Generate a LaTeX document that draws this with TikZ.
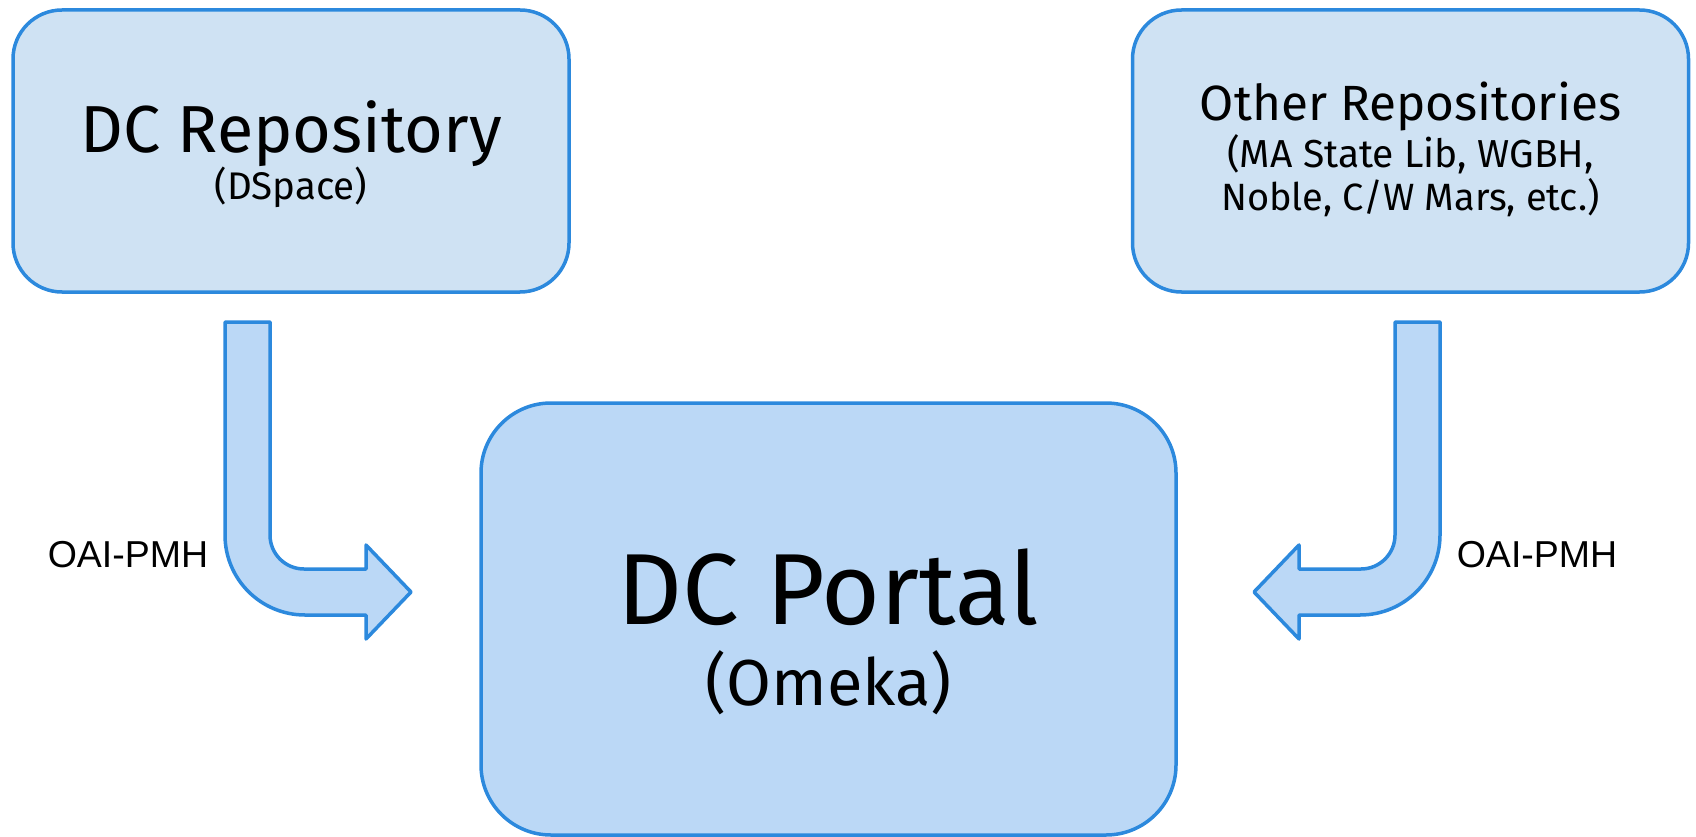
\documentclass[tikz,border=0pt]{standalone}
\usepackage{fontspec}
\setmainfont{Fira Sans}
\newfontfamily\labelfont{Liberation Sans}
\definecolor{edgeblue}{RGB}{44,137,221}
\definecolor{repofill}{RGB}{207,226,243}
\definecolor{portalfill}{RGB}{187,216,246}

\begin{document}
\begin{tikzpicture}[x=1pt, y=-1pt,
    repo/.style={draw=edgeblue, fill=repofill, line width=3.5pt, rounded corners=49pt,
      minimum width=556pt, minimum height=282pt, inner sep=0},
    portal/.style={draw=edgeblue, fill=portalfill, line width=3.5pt, rounded corners=70pt,
      minimum width=695pt, minimum height=432pt, inner sep=0},
    flow/.style={draw=edgeblue, fill=portalfill, line width=3.5pt, line join=round},
    txt/.style={anchor=base, inner sep=0, align=center}
  ]
  \useasboundingbox (0,0) rectangle (1696,837);

  % boxes
  \node[repo] (dcrepo) at (291,151) {};
  \node[repo] (otherrepo) at (1410.5,151) {};
  \node[portal] (portal) at (828.5,619) {};

  % box texts
  \node[txt, font=\fontsize{66.5}{66.5}\selectfont] (dcreponame) at (291,152.5) {DC Repository};
  \node[txt, font=\fontsize{38.5}{38.5}\selectfont] (dcreposub) at (291,200) {(DSpace)};
  \node[txt, font=\fontsize{49.5}{49.5}\selectfont] (othername) at (1410.5,121) {Other Repositories};
  \node[txt, font=\fontsize{39}{39}\selectfont] (othersub1) at (1410.5,167.6) {(MA State Lib, WGBH,};
  \node[txt, font=\fontsize{38}{38}\selectfont] (othersub2) at (1410.5,211) {Noble, C/W Mars, etc.)};
  \node[txt, font=\fontsize{101}{101}\selectfont] (portalname) at (828.5,624) {DC Portal};
  \node[txt, font=\fontsize{65}{65}\selectfont] (portalsub) at (828.5,705) {(Omeka)};

  % harvest arrows, the right one mirrored
  \foreach \s/\o in {1/0, -1/1665} {
    \begin{scope}[xshift=\o pt, xscale=\s]
      \draw[flow] (225,322) -- (270,322) -- (270,535)
        .. controls (270,553.8) and (285.2,569) .. (304,569)
        -- (366,569) -- (366,545) -- (411,592) -- (366,639) -- (366,615)
        -- (305,615) .. controls (260.8,615) and (225,579.2) .. (225,535) -- cycle;
    \end{scope}
  }

  % protocol labels
  \node[txt, font=\labelfont\fontsize{37.5}{37.5}\selectfont] (oaileft) at (128,567) {OAI-PMH};
  \node[txt, font=\labelfont\fontsize{37.5}{37.5}\selectfont] (oairight) at (1537,567) {OAI-PMH};
\end{tikzpicture}
\end{document}
